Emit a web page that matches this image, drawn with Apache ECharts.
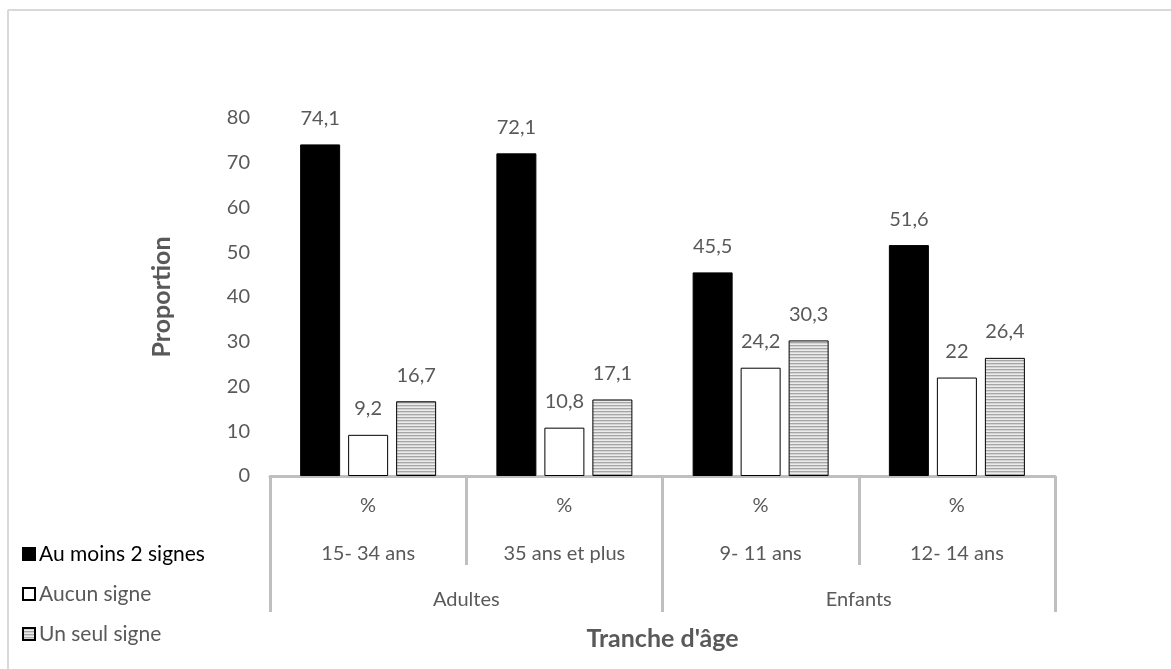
<!DOCTYPE html>
<html>
<head>
<meta charset="utf-8">
<script src="https://cdn.jsdelivr.net/npm/echarts@6/dist/echarts.min.js"></script>
<style>
  html, body { margin: 0; padding: 0; background: #fff; }
  #chart { width: 1171px; height: 669px; }
</style>
</head>
<body>
<div id="chart"></div>
<script>
// Age brackets (first level) and population groups (second level)
const ageBrackets = ['15- 34 ans', '35 ans et plus', '9- 11 ans', '12- 14 ans'];
const groups = ['Adultes', 'Enfants'];
const unitLabel = '%';

// Proportions by number of signs
const auMoins2 = [74.1, 72.1, 45.5, 51.6];
const aucun = [9.2, 10.8, 24.2, 22];
const unSeul = [16.7, 17.1, 30.3, 26.4];

const seriesNames = ['Au moins 2 signes', 'Aucun signe', 'Un seul signe'];

// Horizontal stripe fill for the third series
function stripePattern() {
  const c = document.createElement('canvas');
  c.width = 6; c.height = 3;
  const ctx = c.getContext('2d');
  const rows = ['#a6a6a6', '#d4d4d4', '#ececec'];
  rows.forEach((col, i) => { ctx.fillStyle = col; ctx.fillRect(0, i, 6, 1); });
  return c;
}

const FONT = 'Lato, "Open Sans", sans-serif';
const TEXT = '#595959';
const LINE = '#bfbfbf';
const FS = 20;

const chart = echarts.init(document.getElementById('chart'), null, { renderer: 'canvas' });

const labelOpt = {
  show: true,
  position: 'top',
  distance: 16,
  color: TEXT,
  fontFamily: FONT,
  fontSize: FS,
  formatter: p => String(p.value).replace('.', ',')
};

function bar(name, data, color) {
  return {
    name: name,
    type: 'bar',
    data: data,
    barWidth: 40,
    barGap: '20%',
    itemStyle: { color: color, borderColor: '#000', borderWidth: 1 },
    label: labelOpt,
    emphasis: { disabled: true }
  };
}

chart.setOption({
  animation: false,
  textStyle: { fontFamily: FONT },
  graphic: [
    { type: 'line', shape: { x1: 8, y1: 10, x2: 1171, y2: 10 }, style: { stroke: '#d9d9d9', lineWidth: 2 } },
    { type: 'line', shape: { x1: 8, y1: 10, x2: 8, y2: 669 }, style: { stroke: '#d9d9d9', lineWidth: 2 } }
  ],
  grid: { left: 270, right: 116, top: 118, bottom: 193, containLabel: false },
  legend: {
    orient: 'vertical',
    left: 17,
    top: 538,
    itemWidth: 12,
    itemHeight: 12,
    itemGap: 18,
    icon: 'rect',
    selectedMode: false,
    textStyle: { fontFamily: FONT, fontSize: 21, color: TEXT, lineHeight: 22, padding: [0, 0, 0, -1] },
    data: [
      { name: seriesNames[0], textStyle: { color: '#000' } },
      { name: seriesNames[1] },
      { name: seriesNames[2] }
    ]
  },
  xAxis: [
    {
      type: 'category',
      data: ageBrackets,
      axisLine: { show: true, lineStyle: { color: LINE, width: 3 } },
      axisTick: { show: true, length: 89, alignWithLabel: false, lineStyle: { color: LINE, width: 3 } },
      axisLabel: {
        margin: 6,
        color: TEXT,
        fontFamily: FONT,
        fontSize: FS,
        lineHeight: 48,
        interval: 0,
        formatter: v => unitLabel + '\n' + v
      }
    },
    {
      type: 'category',
      data: groups,
      position: 'bottom',
      axisLine: { show: false },
      axisTick: { show: true, length: 136, alignWithLabel: false, lineStyle: { color: LINE, width: 3 } },
      axisLabel: { margin: 113, color: TEXT, fontFamily: FONT, fontSize: FS, lineHeight: 22, interval: 0 },
      name: "Tranche d'âge",
      nameLocation: 'middle',
      nameGap: 150,
      nameTextStyle: { color: TEXT, fontFamily: FONT, fontSize: 25, fontWeight: 'bold' }
    }
  ],
  yAxis: {
    type: 'value',
    min: 0,
    max: 80,
    interval: 10,
    axisLine: { show: false },
    axisTick: { show: false },
    splitLine: { show: false },
    axisLabel: { color: TEXT, fontFamily: FONT, fontSize: FS, margin: 20 },
    name: 'Proportion',
    nameLocation: 'middle',
    nameRotate: 90,
    nameGap: 96,
    nameTextStyle: { color: TEXT, fontFamily: FONT, fontSize: 25, fontWeight: 'bold' }
  },
  series: [
    bar(seriesNames[0], auMoins2, '#000'),
    bar(seriesNames[1], aucun, '#fff'),
    bar(seriesNames[2], unSeul, { image: stripePattern(), repeat: 'repeat' })
  ]
});
</script>
</body>
</html>
